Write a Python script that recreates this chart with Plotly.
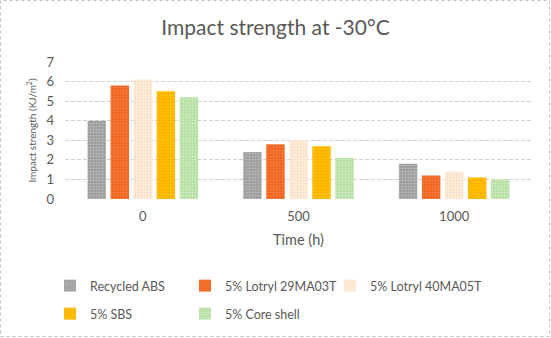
import plotly.graph_objects as go

# Impact strength at -30 °C after ageing
times = ["0", "500", "1000"]
series_names = [
    "Recycled ABS",
    "5% Lotryl 29MA03T",
    "5% Lotryl 40MA05T",
    "5% SBS",
    "5% Core shell",
]
recycled_abs = [4.0, 2.4, 1.8]
lotryl_29ma03t = [5.8, 2.8, 1.2]
lotryl_40ma05t = [6.1, 3.0, 1.4]
sbs = [5.5, 2.7, 1.1]
core_shell = [5.2, 2.1, 1.0]
y_ticks = [0, 1, 2, 3, 4, 5, 6, 7]

values = [recycled_abs, lotryl_29ma03t, lotryl_40ma05t, sbs, core_shell]
# (base colour, dot colour) for the textured fills
fills = [
    ("#9C9C9C", "#D6D6D6"),
    ("#F0621F", "#F8A060"),
    ("#FFEFD6", "#F6C2BC"),
    ("#FFC000", "#F59A00"),
    ("#B4DFA0", "#EEF8EA"),
]
legend_ids = ["legend", "legend2", "legend3", "legend4", "legend5"]

FONT = "Lato"
GREY_TEXT = "#595959"

fig = go.Figure()
for name, vals, (base, dots), lg in zip(series_names, values, fills, legend_ids):
    fig.add_trace(go.Bar(
        x=times,
        y=vals,
        name=name,
        legend=lg,
        showlegend=True,
        marker=dict(
            color=base,
            line=dict(width=0),
            pattern=dict(shape=".", fillmode="overlay", fgcolor=dots,
                         size=3, solidity=0.4),
        ),
    ))

W, H = 551, 338
L, R, T, B = 65, 19, 62, 139
pw, ph = W - L - R, H - T - B


def px_x(p):
    return (p - L) / pw


def px_y(p):
    return (H - B - p) / ph


legend_common = dict(
    visible=True,
    orientation="h",
    xanchor="left",
    yanchor="middle",
    itemwidth=30,
    entrywidth=128,
    entrywidthmode="pixels",
    font=dict(family=FONT, size=12.5, color=GREY_TEXT),
    bgcolor="rgba(0,0,0,0)",
)

# one legend box per entry, laid out in two rows of three columns
col_left = [50, 185, 330]
row_mid = [286, 314]
legend_slots = [(0, 0), (1, 0), (2, 0), (0, 1), (1, 1)]

layout_legends = {}
for lg, (c, r) in zip(legend_ids, legend_slots):
    layout_legends[lg] = dict(x=px_x(col_left[c]), y=px_y(row_mid[r]),
                              **legend_common)

fig.update_layout(
    width=W,
    height=H,
    showlegend=True,
    margin=dict(l=L, r=R, t=T, b=B, autoexpand=False),
    paper_bgcolor="white",
    plot_bgcolor="white",
    barmode="group",
    bargap=0.26,
    bargroupgap=0.2,
    title=dict(
        text="Impact strength at -30°C",
        font=dict(family=FONT, size=21, color=GREY_TEXT),
        x=0.5, xanchor="center",
        xref="container",
        y=1 - 28 / H, yanchor="middle", yref="container",
    ),
    xaxis=dict(
        type="category",
        showgrid=False,
        showline=False,
        ticks="",
        ticklabelstandoff=8,
        tickfont=dict(family=FONT, size=13, color=GREY_TEXT),
        title=dict(text="Time (h)", standoff=11,
                   font=dict(family=FONT, size=14.5, color=GREY_TEXT)),
    ),
    yaxis=dict(
        range=[0, 7],
        tickvals=y_ticks,
        showgrid=True,
        gridcolor="#D0D0D0",
        griddash="4px,2px",
        gridwidth=1,
        zeroline=False,
        showline=False,
        ticks="",
        ticklabelstandoff=10,
        tickfont=dict(family=FONT, size=13, color=GREY_TEXT),
        title=dict(text="Impact strength (KJ/m<sup>2</sup>)", standoff=7,
                   font=dict(family=FONT, size=10, color=GREY_TEXT)),
    ),
    shapes=[dict(
        type="rect", xref="paper", yref="paper",
        x0=px_x(0.5), x1=px_x(W - 1.5), y0=px_y(H - 1.5), y1=px_y(0.5),
        line=dict(color="#BFBFBF", width=1, dash="dot"),
        fillcolor="rgba(0,0,0,0)", layer="below",
    )],
    **layout_legends,
)

fig.write_html("out.html")
